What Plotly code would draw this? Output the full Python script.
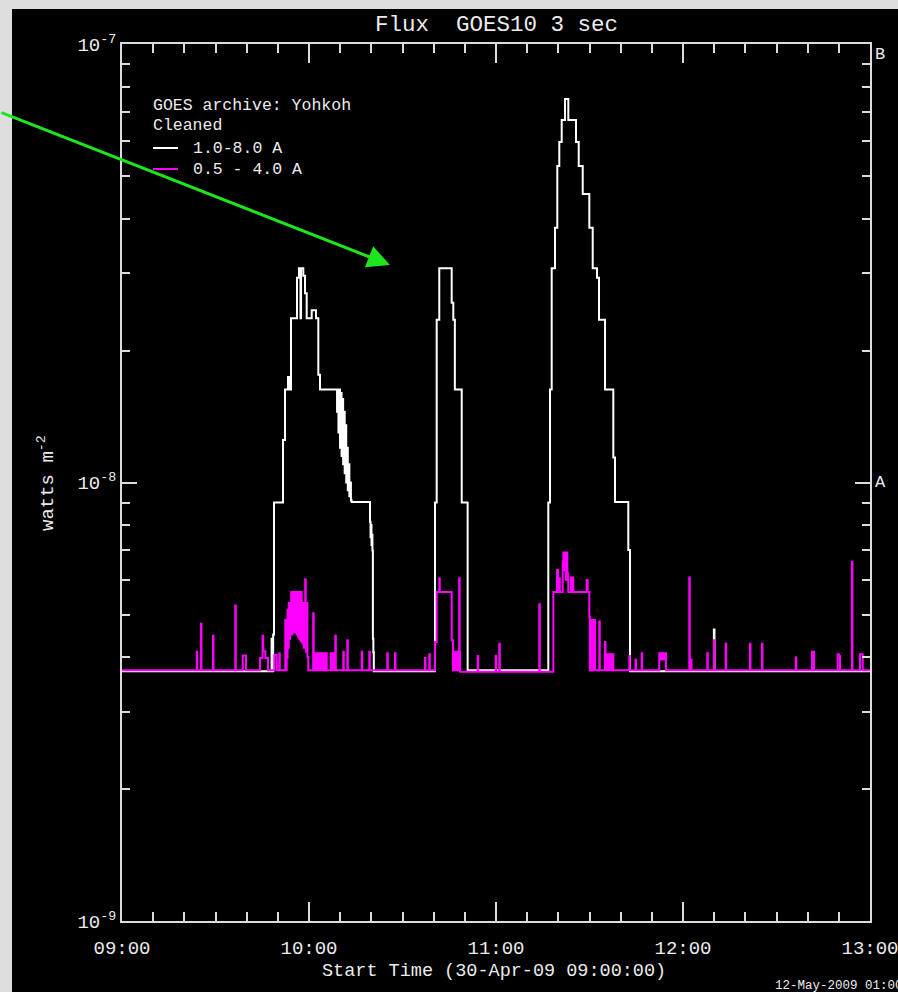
import datetime as dt
import plotly.graph_objects as go

# ---------------- data (minutes after 09:00 UT, flux in W m^-2) ----------------
long_minutes = [0, 48.0, 48.3, 48.5, 48.77, 51.66, 52.30, 53.26, 53.6, 54.22,
                56.15, 56.79, 57.27, 57.45, 58.17, 58.72, 59.26, 60.87, 62.25, 62.99,
                63.53, 69.0, 69.2, 69.45, 69.7, 69.95, 70.2, 70.45, 70.7, 70.95,
                71.2, 71.45, 71.7, 71.95, 72.2, 72.45, 72.7, 72.95, 73.2, 73.45,
                73.7, 79.57, 79.75, 79.9, 80.05, 80.2, 80.35, 80.5, 80.65, 80.8,
                100.43, 100.97, 101.80, 105.78, 106.3, 106.8, 109.0, 110.9,
                136.78, 137.33, 137.87, 138.93, 139.67, 140.31, 141.08, 142.14, 143.20,
                145.67, 146.54, 147.82, 149.94, 151.03, 152.41, 153.05, 154.98, 157.64,
                158.18, 162.45, 162.99, 189.9, 190.1, 240]
long_flux = [3.71e-9, 4.4e-9, 3.71e-9, 4.5e-9, 9.0e-9, 1.25e-8, 1.63e-8, 1.74e-8, 1.63e-8, 2.37e-8,
             2.93e-8, 3.08e-8, 2.37e-8, 3.08e-8, 2.96e-8, 2.70e-8, 2.37e-8, 2.47e-8, 2.37e-8, 1.76e-8,
             1.63e-8, 1.45e-8, 1.63e-8, 1.30e-8, 1.63e-8, 1.20e-8, 1.60e-8, 1.15e-8, 1.55e-8, 1.10e-8,
             1.45e-8, 1.05e-8, 1.35e-8, 1.00e-8, 1.20e-8, 9.6e-9, 1.10e-8, 9.3e-9, 1.00e-8, 9.1e-9,
             9.03e-9, 8.14e-9, 7.5e-9, 8.0e-9, 7.2e-9, 7.6e-9, 7.0e-9, 4.4e-9, 4.1e-9, 3.71e-9,
             9.0e-9, 2.35e-8, 3.08e-8, 2.57e-8, 2.35e-8, 1.63e-8, 9.0e-9, 3.73e-9,
             9.0e-9, 1.63e-8, 3.08e-8, 3.81e-8, 5.27e-8, 5.98e-8, 6.71e-8, 7.49e-8, 6.71e-8,
             5.98e-8, 5.27e-8, 4.55e-8, 3.81e-8, 3.08e-8, 2.93e-8, 2.35e-8, 1.63e-8, 1.14e-8,
             9.03e-9, 7.02e-9, 3.71e-9, 4.62e-9, 3.71e-9, 3.71e-9]

short_minutes = [0,
    23.97, 24.12, 25.35, 25.5, 29.20, 29.35, 36.35, 36.5, 38.73, 39.79,
    44.28, 45.1, 45.3, 46.0, 46.84, 48.87, 49.64, 50.47, 50.62, 52.40, 52.55,
    52.84, 53.1, 53.3, 53.5, 53.7, 53.9, 54.1, 54.3, 54.5, 54.7, 54.9, 55.1, 55.3, 55.5,
    55.7, 55.9, 56.1, 56.3, 56.5, 56.7, 56.9, 57.1, 57.3, 57.5, 57.65, 57.9, 58.1, 58.3,
    58.5, 58.78, 58.93, 59.1, 59.3, 59.5, 59.78,
    61.34, 61.5, 61.92, 62.15, 62.35, 62.6, 62.8, 63.05, 63.25, 63.5, 63.7, 63.95,
    64.15, 64.4, 64.6, 64.85, 65.05, 65.3, 65.5, 65.69,
    66.96, 67.2, 67.4, 67.65, 67.85, 68.1, 68.44, 68.6,
    71.00, 71.15, 72.29, 72.45, 76.91, 77.06, 79.35, 79.5, 85.12, 85.27, 87.59, 87.74,
    97.22, 97.37, 98.60, 98.75,
    100.43, 100.97, 101.80, 101.95, 105.78, 106.2, 106.4, 106.6, 106.8, 107.0, 107.2,
    107.4, 107.6, 107.8, 108.0, 108.19, 108.32, 108.45,
    114.13, 114.28, 119.90, 120.05, 121.06, 121.21, 133.89, 134.04,
    138.39, 139.57, 139.9, 140.31, 140.46, 141.40, 141.6, 141.9, 142.1, 142.4, 142.6,
    142.9, 143.2, 144.06, 144.3, 144.6, 144.81, 149.09, 149.41, 149.94, 150.1, 150.3,
    150.5, 150.7, 150.9, 151.1, 151.3, 151.5, 151.76, 153.14, 153.29, 154.97, 155.12,
    155.52, 155.75, 156.0, 156.25, 156.5, 156.75, 157.0, 157.3, 157.5, 157.64,
    162.77, 162.92, 164.76, 164.91, 166.75, 166.9,
    172.39, 172.8, 173.2, 173.6, 174.0, 174.54,
    182.02, 182.17, 182.57, 182.72, 187.80, 187.95, 189.95, 190.1, 193.70, 193.85,
    201.50, 201.65, 205.35, 205.5, 216.16, 216.31, 221.39, 222.03,
    229.63, 230.0, 230.37, 234.22, 234.37, 236.79, 237.65, 240]
short_flux = [3.73e-9,
    4.11e-9, 3.73e-9, 4.76e-9, 3.73e-9, 4.47e-9, 3.73e-9, 5.24e-9, 3.73e-9, 4.03e-9, 3.73e-9,
    3.98e-9, 4.47e-9, 4.12e-9, 3.98e-9, 3.73e-9, 4.04e-9, 3.73e-9, 4.08e-9, 3.73e-9, 4.86e-9, 3.73e-9,
    3.98e-9, 5.12e-9, 4.20e-9, 5.31e-9, 4.40e-9, 5.31e-9, 4.50e-9, 5.63e-9, 4.50e-9, 5.63e-9, 4.55e-9, 5.63e-9, 4.60e-9, 5.63e-9,
    4.55e-9, 5.63e-9, 4.50e-9, 5.63e-9, 4.45e-9, 5.63e-9, 4.40e-9, 5.63e-9, 4.35e-9, 5.63e-9, 5.31e-9, 4.30e-9, 5.31e-9, 4.20e-9,
    5.31e-9, 6.02e-9, 5.31e-9, 4.10e-9, 5.31e-9, 4.00e-9, 3.73e-9,
    5.03e-9, 3.73e-9, 4.08e-9, 3.73e-9, 4.08e-9, 3.73e-9, 4.08e-9, 3.73e-9, 4.08e-9, 3.73e-9, 4.08e-9, 3.73e-9,
    4.08e-9, 3.73e-9, 4.08e-9, 3.73e-9, 4.08e-9, 3.73e-9, 4.08e-9, 3.73e-9,
    4.08e-9, 3.73e-9, 4.08e-9, 3.73e-9, 4.08e-9, 3.73e-9, 4.47e-9, 3.73e-9,
    4.11e-9, 3.73e-9, 4.37e-9, 3.73e-9, 4.11e-9, 3.73e-9, 4.11e-9, 3.73e-9, 4.08e-9, 3.73e-9, 4.08e-9, 3.73e-9,
    3.98e-9, 3.73e-9, 4.06e-9, 3.73e-9,
    4.33e-9, 5.63e-9, 6.05e-9, 5.63e-9, 4.37e-9, 3.73e-9, 4.11e-9, 3.73e-9, 4.11e-9, 3.73e-9, 4.11e-9,
    3.73e-9, 4.11e-9, 3.73e-9, 4.11e-9, 6.05e-9, 4.11e-9, 3.70e-9,
    4.02e-9, 3.70e-9, 4.02e-9, 3.70e-9, 4.29e-9, 3.70e-9, 5.28e-9, 3.70e-9,
    5.63e-9, 6.32e-9, 5.63e-9, 6.05e-9, 5.63e-9, 6.60e-9, 6.92e-9, 6.30e-9, 6.92e-9, 6.00e-9, 6.92e-9,
    6.20e-9, 5.63e-9, 6.07e-9, 5.63e-9, 6.07e-9, 5.63e-9, 5.99e-9, 5.63e-9, 4.94e-9, 3.73e-9, 4.86e-9,
    3.73e-9, 4.86e-9, 3.73e-9, 4.80e-9, 3.73e-9, 4.86e-9, 3.73e-9, 4.82e-9, 3.73e-9, 4.33e-9, 3.73e-9,
    4.06e-9, 3.73e-9, 4.06e-9, 3.73e-9, 4.06e-9, 3.73e-9, 4.06e-9, 3.73e-9, 4.06e-9, 3.73e-9,
    4.02e-9, 3.73e-9, 3.94e-9, 3.73e-9, 4.08e-9, 3.73e-9,
    4.08e-9, 3.95e-9, 4.08e-9, 3.95e-9, 4.08e-9, 3.73e-9,
    6.07e-9, 3.73e-9, 3.94e-9, 3.73e-9, 4.08e-9, 3.73e-9, 4.37e-9, 3.73e-9, 4.29e-9, 3.73e-9,
    4.29e-9, 3.73e-9, 4.29e-9, 3.73e-9, 3.99e-9, 3.73e-9, 4.11e-9, 3.73e-9,
    4.06e-9, 4.02e-9, 3.73e-9, 6.60e-9, 3.73e-9, 4.06e-9, 3.73e-9, 3.73e-9]

assert len(long_minutes) == len(long_flux)
assert len(short_minutes) == len(short_flux)

y_tick_vals = [1e-9, 1e-8, 1e-7]
y_tick_text = ["10<sup>-9</sup>", "10<sup>-8</sup>", "10<sup>-7</sup>"]
y_minor_vals = [k * 1e-9 for k in range(2, 10)] + [k * 1e-8 for k in range(2, 10)]
class_labels = ["A", "B"]
class_log_vals = [-8, -7]
legend_labels = ["1.0-8.0 A", "0.5 - 4.0 A"]

START = dt.datetime(2009, 4, 30, 9, 0, 0)
END = dt.datetime(2009, 4, 30, 13, 0, 0)
x_tick_vals = [START + dt.timedelta(hours=h) for h in range(5)]
x_tick_text = ["09:00", "10:00", "11:00", "12:00", "13:00"]

# ---------------- layout geometry ----------------
W, H = 898, 992
ML, MR, MT, MB = 122, 28, 44, 71
PW, PH = W - ML - MR, H - MT - MB


def px(x):
    return (x - ML) / PW


def py(y):
    return (H - MB - y) / PH


FONT = "Liberation Mono"
AX = "#dcdcdc"

lx = [START + dt.timedelta(minutes=m) for m in long_minutes]
sx = [START + dt.timedelta(minutes=m) for m in short_minutes]

fig = go.Figure()
fig.add_trace(go.Scatter(x=lx, y=long_flux, mode="lines", line=dict(color="#ffffff", width=2, shape="hv"),
                         name=legend_labels[0], showlegend=False))
fig.add_trace(go.Scatter(x=sx, y=short_flux, mode="lines", line=dict(color="#ff00ff", width=2, shape="hv"),
                         name=legend_labels[1], showlegend=False))

fig.update_layout(
    width=W, height=H,
    margin=dict(l=ML, r=MR, t=MT, b=MB, pad=0, autoexpand=False),
    paper_bgcolor="#dedede",
    plot_bgcolor="#000000",
    font=dict(family=FONT, color="#ececec", size=18),
    showlegend=False,
)

fig.update_xaxes(
    type="date", range=[START, END], automargin=False,
    tickmode="array", tickvals=x_tick_vals, ticktext=x_tick_text,
    ticks="inside", ticklen=19, tickwidth=2, tickcolor=AX,
    minor=dict(ticks="inside", dtick=600000, tick0=START, ticklen=9, tickwidth=2, tickcolor=AX, showgrid=False),
    showline=True, linecolor=AX, linewidth=2, mirror="allticks",
    showgrid=False, zeroline=False,
    tickfont=dict(family=FONT, size=19, color="#ececec"),
    ticklabelstandoff=8,
    ticklabeloverflow="allow",
)
fig.update_yaxes(
    type="log", range=[-9, -7], automargin=False,
    tickmode="array", tickvals=y_tick_vals, ticktext=y_tick_text,
    ticks="inside", ticklen=15, tickwidth=2, tickcolor=AX,
    minor=dict(ticks="inside", tickmode="array", tickvals=y_minor_vals, ticklen=8, tickwidth=2,
               tickcolor=AX, showgrid=False),
    showline=True, linecolor=AX, linewidth=2, mirror="allticks",
    showgrid=False, zeroline=False,
    tickfont=dict(family=FONT, size=19, color="#ececec"),
    ticklabeloverflow="allow",
)

shapes = [
    # black canvas over the marble background
    dict(type="rect", xref="paper", yref="paper", x0=px(12), x1=px(W + 2), y0=py(9), y1=py(H + 2),
         fillcolor="#000000", line=dict(width=0), layer="below"),
    # legend lines
    dict(type="line", xref="paper", yref="paper", x0=px(153), x1=px(178), y0=py(148), y1=py(148),
         line=dict(color="#ffffff", width=2)),
    dict(type="line", xref="paper", yref="paper", x0=px(153), x1=px(178), y0=py(169), y1=py(169),
         line=dict(color="#ff00ff", width=2)),
]
fig.update_layout(shapes=shapes)

ann = []
ann.append(dict(text="Flux  GOES10 3 sec", x=px(496), y=py(25), xref="paper", yref="paper",
                showarrow=False, xanchor="center", yanchor="middle", font=dict(size=22.5, family=FONT)))
ann.append(dict(text="Start Time (30-Apr-09 09:00:00)", x=px(494), y=py(972), xref="paper", yref="paper",
                showarrow=False, xanchor="center", yanchor="middle", font=dict(size=18.5, family=FONT)))
ann.append(dict(text="watts m<sup>-2</sup>", x=px(46), y=py(483), xref="paper", yref="paper",
                showarrow=False, xanchor="center", yanchor="middle", textangle=-90,
                font=dict(size=19, family=FONT)))
ann.append(dict(text="12-May-2009 01:00", x=px(773), y=py(986), xref="paper", yref="paper",
                showarrow=False, xanchor="left", yanchor="middle", font=dict(size=12.5, family=FONT)))
ann.append(dict(text="GOES archive: Yohkoh", x=px(151), y=py(105), xref="paper", yref="paper",
                showarrow=False, xanchor="left", yanchor="middle", font=dict(size=16.5, family=FONT)))
ann.append(dict(text="Cleaned", x=px(151), y=py(126), xref="paper", yref="paper",
                showarrow=False, xanchor="left", yanchor="middle", font=dict(size=16.5, family=FONT)))
ann.append(dict(text=legend_labels[0], x=px(191), y=py(148), xref="paper", yref="paper",
                showarrow=False, xanchor="left", yanchor="middle", font=dict(size=16.5, family=FONT)))
ann.append(dict(text=legend_labels[1], x=px(191), y=py(169), xref="paper", yref="paper",
                showarrow=False, xanchor="left", yanchor="middle", font=dict(size=16.5, family=FONT)))
# GOES class labels on the right axis
ann.append(dict(text=class_labels[1], x=1.0, y=class_log_vals[1], xref="paper", yref="y",
                showarrow=False, xanchor="left", yanchor="top", xshift=3, yshift=1, font=dict(size=17, family=FONT)))
ann.append(dict(text=class_labels[0], x=1.0, y=class_log_vals[0], xref="paper", yref="y",
                showarrow=False, xanchor="left", yanchor="middle", xshift=3, font=dict(size=17, family=FONT)))
# green arrow
ann.append(dict(text="", x=px(390), y=py(265), xref="paper", yref="paper",
                showarrow=True, arrowhead=2, arrowsize=1.5, arrowwidth=3, arrowcolor="#1ee61e",
                ax=-392, ay=-153, standoff=0))
fig.update_layout(annotations=ann)

fig.write_html("out.html")
